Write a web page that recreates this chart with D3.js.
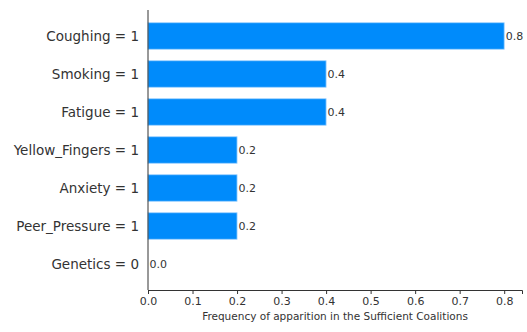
<!DOCTYPE html>
<html><head><meta charset="utf-8">
<script src="https://cdn.jsdelivr.net/npm/d3@7"></script>
<style>body{margin:0;background:#fff}svg{display:block}text{font-family:"DejaVu Sans",sans-serif}</style>
</head><body><svg id="c" width="527" height="332"></svg>
<script>
const categories = ["Coughing = 1","Smoking = 1","Fatigue = 1","Yellow_Fingers = 1","Anxiety = 1","Peer_Pressure = 1","Genetics = 0"];
const values = [0.8,0.4,0.4,0.2,0.2,0.2,0.0];
const xTicks = [0,0.1,0.2,0.3,0.4,0.5,0.6,0.7,0.8];
const xLabel = "Frequency of apparition in the Sufficient Coalitions";

(function(){
const svg = d3.select("#c");
const mL = 148, mR = 522, mT = 10, mB = 290;
const x = d3.scaleLinear().domain([0, 0.84]).range([mL, mR]);
const y = d3.scaleLinear().domain([-0.684, categories.length - 1 + 0.684]).range([mT, mB]);
const bh = 26.5;

svg.selectAll("rect.bar").data(values).enter().append("rect")
  .attr("x", x(0)).attr("y", (d,i)=>y(i)-bh/2)
  .attr("width", d=>x(d)-x(0)).attr("height", bh)
  .attr("fill", "#008bfb").attr("stroke", "#9fd2fd").attr("stroke-width", 0.8);

svg.selectAll("text.val").data(values).enter().append("text")
  .attr("x", d=>x(d)+1.5).attr("y", (d,i)=>y(i)).attr("dy","0.35em")
  .attr("font-size", 11).attr("fill", "#333").text(d=>d.toFixed(1));

svg.selectAll("text.cat").data(categories).enter().append("text")
  .attr("x", 139).attr("y", (d,i)=>y(i)).attr("dy","0.35em").attr("text-anchor","end")
  .attr("font-size", 13.5).attr("fill", "#333").text(d=>d);

const xa = d3.axisBottom(x).tickValues(xTicks).tickFormat(d3.format(".1f")).tickSize(4).tickPadding(3);
const g = svg.append("g").attr("transform", `translate(0,${mB})`).call(xa);
g.select(".domain").attr("stroke","#333").attr("stroke-width",1);
g.selectAll(".tick line").attr("stroke","#333");
g.selectAll(".tick text").attr("font-size",11).attr("fill","#333").attr("font-family","DejaVu Sans");

svg.append("line").attr("x1",mL).attr("x2",mL).attr("y1",mT).attr("y2",mB).attr("stroke","#333").attr("stroke-width",1);

svg.append("text").attr("x", 335).attr("y", 320).attr("text-anchor","middle")
  .attr("font-size", 10.5).attr("fill","#333").text(xLabel);
})();
</script></body></html>
